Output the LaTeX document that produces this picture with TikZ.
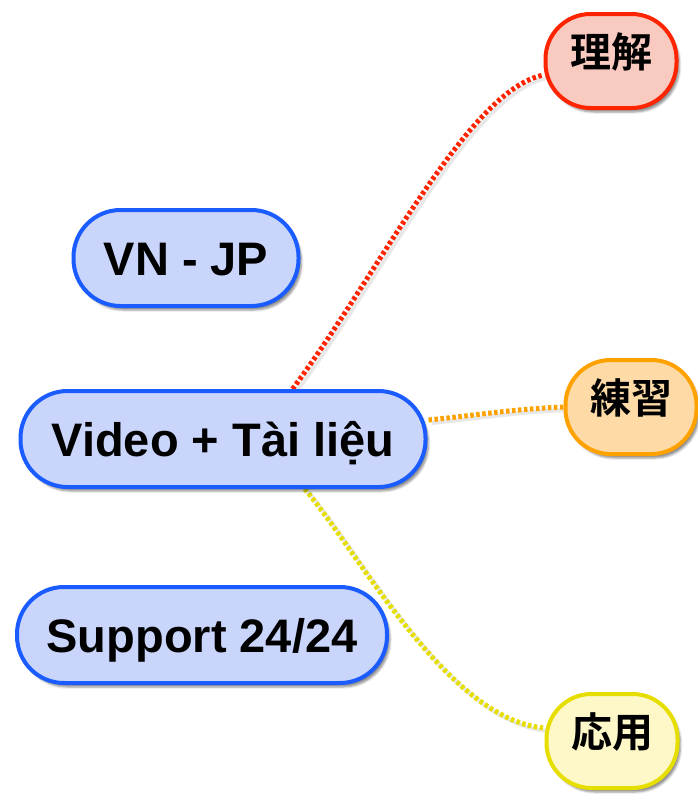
\documentclass[tikz,border=0pt]{standalone}
\usepackage{fontspec}
\setmainfont{Liberation Sans}
\newfontfamily\cjk{Noto Sans CJK JP}[BoldFont={Noto Sans CJK JP Bold}]
\usetikzlibrary{calc, backgrounds, shadows.blur}

\definecolor{blueline}{HTML}{1A5CFF}
\definecolor{bluefill}{HTML}{C9D5FA}
\definecolor{redline}{HTML}{FF2400}
\definecolor{redfill}{HTML}{F9CAC0}
\definecolor{orangeline}{HTML}{FFA200}
\definecolor{orangefill}{HTML}{FDDAA6}
\definecolor{yellowline}{HTML}{E6DE00}
\definecolor{yellowfill}{HTML}{FEF8C8}

\tikzset{
	topic/.style={draw=blueline, fill=bluefill, line width=4pt, rounded corners=47pt,
		minimum height=96pt, text height=34pt, text depth=0pt,
		font=\fontsize{47}{56}\selectfont\bfseries,
		blur shadow={shadow xshift=3pt, shadow yshift=-4pt, shadow opacity=45}},
	sub/.style={draw=#1line, fill=#1fill, line width=4pt, rounded corners=45pt,
		minimum width=131pt, minimum height=94pt, text height=30pt, text depth=18pt,
		font=\fontsize{41}{48}\selectfont\bfseries\cjk,
		blur shadow={shadow xshift=3pt, shadow yshift=-4pt, shadow opacity=45}},
	link/.style={draw=#1line, line width=5pt, dash pattern=on 3.5pt off 2.5pt,
		preaction={draw=black!9, solid, line width=4pt, transform canvas={xshift=3.5pt, yshift=-3pt}}}
}

\begin{document}
\begin{tikzpicture}[x=1pt, y=-1pt]

			\useasboundingbox (0,0) rectangle (698,801);

			\node[topic, minimum width=225pt] (vnjp) at (186,258) {VN - JP};
			\node[topic, minimum width=405pt] (video) at (223,439) {Video + Tài liệu};
			\node[topic, minimum width=370pt] (support) at (202,635) {Support 24/24};

			\node[sub=red] (understand) at (611,61) {理解};
			\node[sub=orange] (practice) at (631,407) {練習};
			\node[sub=yellow] (apply) at (612,741) {応用};

			\begin{scope}[on background layer]
			\draw[link=red] ($(video.north)!0.34!(video.north east)$)
				.. controls +(89,-120) and +(-75,15) .. ($(understand.west)+(0,14)$);
			\draw[link=orange] ($(video.east)+(1,-19)$)
				.. controls +(50,-5) and +(-50,2) .. (practice.west);
			\draw[link=yellow] ($(video.south)!0.4!(video.south east)$)
				.. controls +(55,65) and +(-97,-8) .. ($(apply.west)+(0,-13)$);
			\end{scope}

\end{tikzpicture}
\end{document}
